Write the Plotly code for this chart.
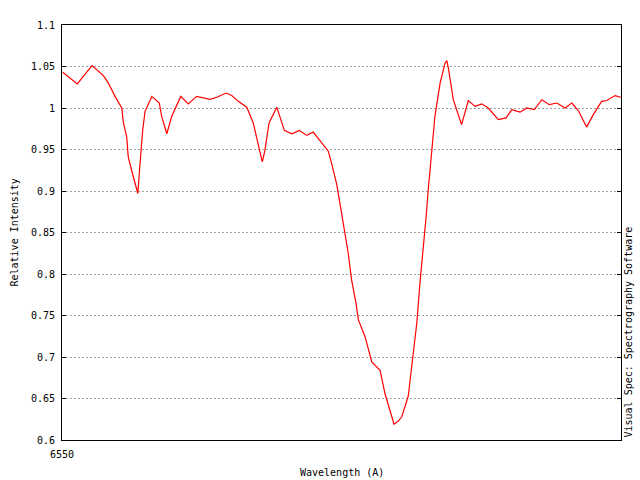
'''
    H-alpha profile, Visual Spec style
'''
import plotly.graph_objects as go

wavelength = [
    6550.03, 6550.59, 6551.16, 6551.60, 6551.79, 6552.05, 6552.31, 6552.37, 6552.50, 6552.56,
    6552.69, 6552.89, 6552.93, 6553.01, 6553.12, 6553.21, 6553.47, 6553.76, 6553.85, 6554.05,
    6554.24, 6554.59, 6554.88, 6555.20, 6555.46, 6555.72, 6555.98, 6556.34, 6556.56, 6556.81,
    6557.14, 6557.26, 6557.39, 6557.59, 6557.74, 6557.84, 6558.00, 6558.30, 6558.42, 6558.59,
    6558.88, 6559.17, 6559.46, 6559.71, 6559.90, 6560.16, 6560.29, 6560.42, 6560.61, 6560.74,
    6560.94, 6561.06, 6561.19, 6561.36, 6561.45, 6561.71, 6561.97, 6562.16, 6562.29, 6562.48,
    6562.67, 6562.83, 6563.00, 6563.13, 6563.29, 6563.38, 6563.51, 6563.71, 6563.83, 6563.96,
    6564.07, 6564.15, 6564.25, 6564.30, 6564.41, 6564.61, 6564.80, 6564.87, 6564.93, 6565.12,
    6565.44, 6565.70, 6565.96, 6566.22, 6566.47, 6566.86, 6567.16, 6567.38, 6567.70, 6567.96,
    6568.25, 6568.54, 6568.83, 6569.12, 6569.44, 6569.70, 6569.95, 6570.27, 6570.53, 6570.85,
    6571.05, 6571.37, 6571.59,
]
intensity = [
    1.043, 1.029, 1.051, 1.039, 1.030, 1.014, 1.000, 0.983, 0.965, 0.941,
    0.925, 0.903, 0.897, 0.931, 0.974, 0.996, 1.014, 1.006, 0.990, 0.969,
    0.990, 1.014, 1.005, 1.014, 1.012, 1.0105, 1.013, 1.018, 1.015, 1.008,
    1.001, 0.992, 0.982, 0.955, 0.935, 0.949, 0.982, 1.001, 0.990, 0.973,
    0.969, 0.973, 0.967, 0.971, 0.9635, 0.953, 0.948, 0.933, 0.909, 0.885,
    0.849, 0.825, 0.793, 0.765, 0.745, 0.7245, 0.694, 0.688, 0.684, 0.656,
    0.636, 0.619, 0.623, 0.628, 0.644, 0.653, 0.688, 0.741, 0.789, 0.829,
    0.869, 0.901, 0.937, 0.955, 0.990, 1.030, 1.054, 1.057, 1.048, 1.010,
    0.980, 1.009, 1.002, 1.005, 1.000, 0.986, 0.988, 0.998, 0.995, 1.000,
    0.998, 1.010, 1.004, 1.006, 1.000, 1.006, 0.997, 0.977, 0.992, 1.008,
    1.009, 1.015, 1.013,
]
y_ticks = [0.6, 0.65, 0.7, 0.75, 0.8, 0.85, 0.9, 0.95, 1.0, 1.05, 1.1]
y_labels = ['0.6', '0.65', '0.7', '0.75', '0.8', '0.85', '0.9', '0.95', '1', '1.05', '1.1']

FONT = dict(family='DejaVu Sans Mono', size=10, color='black')

fig = go.Figure()
fig.add_trace(
    go.Scatter(
        x=wavelength,
        y=intensity,
        mode='lines',
        line=dict(color='red', width=1.2),
        showlegend=False
    )
)
fig.update_layout(
    width=640,
    height=480,
    margin=dict(l=62, r=19, t=25, b=40),
    paper_bgcolor='white',
    plot_bgcolor='white',
    font=FONT,
    xaxis=dict(
        range=[6550, 6571.6],
        tickvals=[6550],
        ticktext=['6550'],
        ticks='',
        ticklabelstandoff=5,
        showgrid=False,
        zeroline=False,
        showline=True,
        linecolor='black',
        linewidth=1,
        mirror=True,
        automargin=False
    ),
    yaxis=dict(
        range=[0.6, 1.1],
        tickvals=y_ticks,
        ticktext=y_labels,
        ticks='inside',
        ticklen=4,
        tickcolor='black',
        ticklabelstandoff=4,
        showgrid=True,
        gridcolor='#a0a0a0',
        griddash='2px,2px',
        gridwidth=1,
        zeroline=False,
        showline=True,
        linecolor='black',
        linewidth=1,
        mirror='ticks',
        automargin=False
    )
)
# axis titles and side note as annotations for exact placement
fig.add_annotation(
    text='Wavelength (A)',
    xref='paper', yref='paper', x=0.5, y=0,
    yshift=-32, xanchor='center', yanchor='middle',
    showarrow=False, font=FONT
)
fig.add_annotation(
    text='Relative Intensity',
    xref='paper', yref='paper', x=0, y=0.5,
    xshift=-48, xanchor='center', yanchor='middle',
    textangle=-90, showarrow=False, font=FONT
)
fig.add_annotation(
    text='Visual Spec: Spectrography Software',
    xref='paper', yref='paper', x=1, y=0,
    xshift=7, xanchor='center', yanchor='bottom',
    textangle=-90, showarrow=False, font=FONT
)
fig.write_html(
    "out.html",
    config={'displayModeBar': False},
    post_script="document.body.style.margin='0';"
)
